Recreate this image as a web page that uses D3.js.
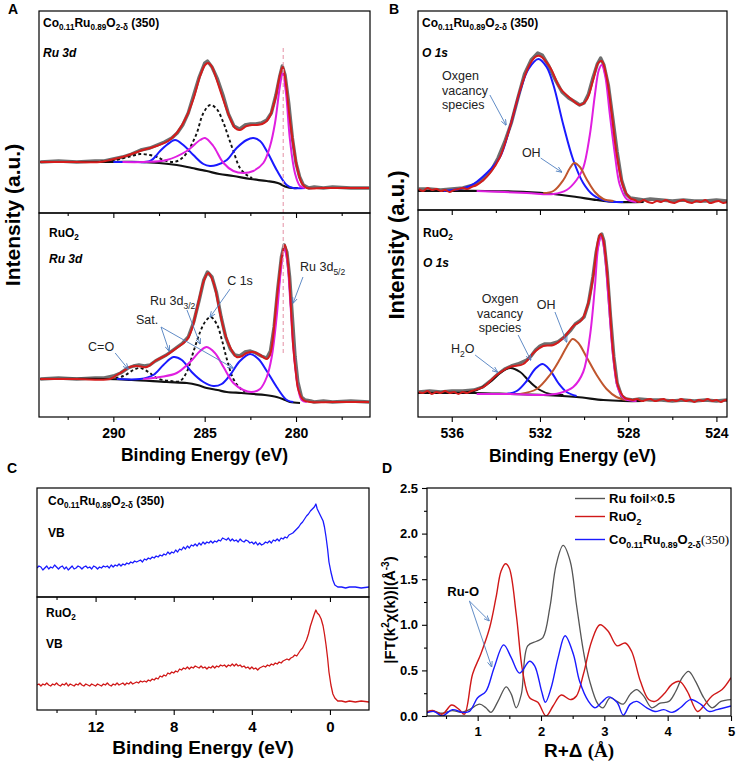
<!DOCTYPE html>
<html><head><meta charset="utf-8">
<script src="https://cdn.jsdelivr.net/npm/d3@7"></script>
<style>body{margin:0;background:#fff} text{font-family:Arial,"Liberation Sans",sans-serif}</style>
</head><body><script>
// ---------------- DATA ----------------
// Panel A (Ru 3d) – binding energy (eV), intensity (a.u.)
const A1_raw = [[294,51],[293,52],[292,51],[291,52],[290.5,52],[290,54],[289.5,56],[289,59],[288.5,63],[288,65],[287.6,68],[287.2,71],[286.8,75],[286.5,80],[286.2,88],[285.9,100],[285.6,118],[285.3,136],[285.0,150],[284.85,152],[284.6,146],[284.3,134],[284.0,118],[283.7,99],[283.4,87],[283.1,84],[282.8,88],[282.5,89],[282.2,89],[281.9,90],[281.6,93],[281.35,100],[281.1,118],[280.9,136],[280.75,147],[280.6,138],[280.4,110],[280.2,75],[280.0,50],[279.8,36],[279.6,28],[279.3,25],[279,26],[278.5,25],[278,26],[277,25],[276,25]];
const A1_fit = [[294,51],[292,51],[290.73,51],[290.18,53],[289.3,57],[288.54,62],[287.63,67],[287.0,72],[286.53,80],[285.98,97],[285.6,115],[285.25,137],[284.98,148],[284.8,150],[284.6,146],[284.34,133],[284.05,117],[283.79,103],[283.55,92],[283.34,85],[283.07,83],[282.70,87],[282.4,88],[282.15,88],[281.85,89],[281.6,92],[281.4,98],[281.24,107],[281.1,117],[280.97,130],[280.85,140],[280.73,146],[280.62,138],[280.51,123],[280.38,100],[280.24,80],[280.1,62],[279.96,47],[279.83,37],[279.69,30],[279.55,27],[279.41,25],[278.5,25],[277,25],[276,25]];
const A1_base = [[294,51],[290,51],[288.54,51],[287.5,50],[286.53,48],[285.7,45],[284.89,42],[284.2,39],[283.43,37],[282.5,34],[281.6,32],[281,30],[280.51,26],[280.2,25],[279.9,25]];
const A1_c1s = [[291,51],[290.2,52],[289.63,54],[289.0,57],[288.54,59],[288.0,58],[287.6,56],[287.26,53],[286.71,51],[286.3,54],[285.98,60],[285.7,69],[285.43,80],[285.07,100],[284.7,108],[284.34,104],[283.97,90],[283.7,76],[283.43,62],[283.07,45],[282.70,38],[282.4,35]];
const A1_sat = [[290,51],[289.5,51],[288.91,51],[287.99,52],[287.44,62],[287.08,68],[286.62,73],[286.17,68],[285.62,58],[285.07,49],[284.71,47],[284.34,48],[283.79,53],[283.25,65],[282.70,73],[282.34,75],[281.97,72],[281.6,62],[281.06,43],[280.51,28],[280.15,25],[279.5,25]];
const A1_ru = [[289.5,51],[288.36,51],[287.08,53],[285.98,62],[285.25,73],[284.98,75],[284.53,67],[283.97,50],[283.43,42],[282.88,40],[282.34,42],[281.79,50],[281.42,67],[281.15,90],[280.88,127],[280.73,140],[280.55,120],[280.33,73],[280.06,40],[279.78,27],[279.51,25]];

const A2_raw = [[294,38],[293,39],[292,38],[291,39],[290.5,39],[290,41],[289.6,44],[289.2,49],[288.9,51],[288.6,52],[288.3,51],[288,52],[287.7,56],[287.4,59],[287.1,62],[286.8,66],[286.5,70],[286.2,74],[285.9,80],[285.6,95],[285.3,117],[285.05,137],[284.85,145],[284.6,140],[284.35,124],[284.1,100],[283.85,80],[283.6,68],[283.35,62],[283.1,61],[282.8,65],[282.5,66],[282.2,64],[281.9,61],[281.6,59],[281.4,66],[281.2,90],[281.0,128],[280.8,160],[280.65,172],[280.5,165],[280.35,140],[280.2,100],[280.05,60],[279.9,35],[279.7,20],[279.5,17],[279.2,16],[279,15],[278.5,16],[278,15],[277,16],[276,15]];
const A2_fit = [[294,38],[292,38],[290.18,38],[289.81,42],[289.45,46],[289.09,50],[288.72,51],[288.17,50],[287.63,57],[287.08,62],[286.53,69],[285.98,77],[285.7,88],[285.44,107],[285.25,122],[285.07,135],[284.8,144],[284.53,135],[284.35,122],[284.16,104],[283.9,84],[283.61,70],[283.25,60],[282.95,61],[282.70,64],[282.34,65],[281.97,62],[281.6,58],[281.45,61],[281.33,70],[281.2,90],[281.06,117],[280.92,140],[280.78,160],[280.6,172],[280.42,150],[280.28,110],[280.15,70],[280.0,43],[279.87,27],[279.6,17],[279.23,15],[278,15],[276,15]];
const A2_base = [[294,38],[290.5,38],[289,37],[287.08,35],[285.98,34],[285.4,32],[284.89,29],[284.3,27],[283.79,25],[283,24],[282.34,23],[281.7,22],[281.06,20],[280.6,17],[280.33,15],[279.78,14]];
const A2_c1s = [[290.18,38],[289.45,41],[288.9,47],[288.54,49],[288.08,45],[287.63,39],[286.9,36],[286.35,36],[285.98,45],[285.62,65],[285.25,85],[284.98,95],[284.67,100],[284.34,93],[284.07,78],[283.79,58],[283.43,38],[283.07,29],[282.8,25]];
const A2_sat = [[289.81,38],[288.54,38],[287.81,42],[287.26,52],[286.71,60],[286.25,57],[285.71,45],[285.07,35],[284.53,31],[284.07,33],[283.61,42],[283.07,56],[282.52,63],[282.06,58],[281.6,46],[281.06,30],[280.51,17],[280.15,15]];
const A2_ru = [[288.36,38],[287.44,40],[286.53,44],[285.8,55],[285.25,66],[284.89,70],[284.44,64],[283.97,50],[283.43,34],[282.88,27],[282.43,25],[281.97,28],[281.6,40],[281.33,60],[281.06,100],[280.84,145],[280.66,168],[280.51,160],[280.33,120],[280.15,70],[279.9,30],[279.69,17],[279.41,15]];
const A_ticksMajor = [290,285,280];
const A_ticksMinor = [292.5,287.5,282.5,277.5];
const A_refLine = 280.7;

// Panel B (O 1s)
const B1_raw = [[537.5,21],[537,21],[536.5,20],[536,21],[535.5,22],[535,25],[534.6,30],[534.2,40],[533.9,52],[533.6,68],[533.3,87],[533.0,112],[532.7,136],[532.4,150],[532.1,157],[531.9,155],[531.6,144],[531.3,130],[531.0,118],[530.7,112],[530.4,108],[530.2,105],[530.0,107],[529.8,116],[529.6,132],[529.4,146],[529.25,152],[529.1,145],[528.9,125],[528.7,92],[528.5,58],[528.3,30],[528.1,16],[527.9,12],[527.6,11],[527.3,10],[527,11],[526.5,10],[526,9],[525.5,10],[525,9],[524.5,9],[524,10],[523.5,9]];
const B1_fit = [[537.5,21],[537.3,19],[537.1,22],[536.9,20],[536.7,21],[536.5,19],[536.3,20],[536.1,18],[535.9,20],[535.7,21],[535.5,22],[535.3,21],[535.1,23],[534.87,25],[534.56,30],[534.26,37],[533.81,53],[533.36,83],[532.9,120],[532.52,143],[532.22,153],[532.0,154],[531.55,143],[531.09,122],[530.64,112],[530.19,105],[529.89,110],[529.59,130],[529.36,147],[529.2,149],[528.98,133],[528.75,97],[528.53,57],[528.22,23],[527.92,12],[527.7,10],[527.5,8],[527.3,10],[527.1,8],[526.9,7],[526.7,9],[526.5,8],[526.3,10],[526.1,8],[525.9,7],[525.7,9],[525.5,10],[525.3,8],[525.1,7],[524.9,9],[524.7,8],[524.5,10],[524.3,7],[524.1,8],[523.9,9],[523.7,7],[523.5,8]];
const B1_base = [[537.53,19],[536,19],[534.5,19],[532.6,18],[531.39,16],[530.34,13],[529.43,10],[528.53,8],[527.3,8]];
const B1_vac = [[536.37,19],[535.17,24],[534.41,37],[533.81,53],[533.36,83],[532.9,119],[532.52,141],[532.07,151],[531.7,143],[531.39,125],[530.94,85],[530.49,50],[530.04,27],[529.59,15],[528.98,9],[528.22,8]];
const B1_oh = [[531.85,17],[531.39,19],[530.94,30],[530.64,42],[530.44,47],[530.19,43],[529.89,31],[529.51,18],[529.13,11],[528.67,9]];
const B1_lat = [[534.87,19],[532.6,17],[531.39,16],[530.79,20],[530.34,30],[530.04,42],[529.74,75],[529.51,115],[529.33,140],[529.2,145],[529.05,135],[528.83,95],[528.6,55],[528.38,25],[528.07,11],[527.62,8]];

const B2_raw = [[537.5,25],[537,26],[536.5,25],[536,26],[535.5,26],[535,27],[534.6,30],[534.2,37],[533.9,43],[533.6,48],[533.3,51],[533,53],[532.8,55],[532.6,57],[532.4,61],[532.2,67],[532,71],[531.8,73],[531.5,73],[531.2,75],[530.9,80],[530.6,87],[530.4,93],[530.2,96],[530,100],[529.8,114],[529.6,140],[529.45,165],[529.3,181],[529.2,183],[529.1,176],[528.95,145],[528.8,100],[528.65,60],[528.5,34],[528.3,21],[528.1,18],[527.8,17],[527.5,18],[527,17],[526.5,17],[526,16],[525.5,17],[525,16],[524.5,17],[524,16],[523.5,17]];
const B2_fit = [[537.5,25],[537.3,24],[537.1,26],[536.9,23],[536.7,25],[536.5,24],[536.3,26],[536.1,24],[535.9,25],[535.7,23],[535.5,25],[535.3,24],[535.1,26],[534.56,30],[533.96,42],[533.36,50],[532.75,53],[532.3,64],[531.85,71],[531.39,72],[530.94,79],[530.49,91],[530.11,97],[529.81,114],[529.59,140],[529.36,177],[529.25,183],[529.13,177],[528.9,130],[528.68,64],[528.45,30],[528.15,19],[528,18],[527.8,17],[527.6,18],[527.4,16],[527.2,17],[527,18],[526.8,16],[526.6,17],[526.4,18],[526.2,16],[526,17],[525.8,16],[525.6,18],[525.4,16],[525.2,17],[525,15],[524.8,17],[524.6,16],[524.4,18],[524.2,16],[524,17],[523.8,15],[523.6,17],[523.5,16]];
const B2_base = [[537.53,24],[535,24],[533.36,23],[531.85,22],[530.34,20],[529.13,17],[528.22,16],[527.3,16]];
const B2_h2o = [[535.62,24],[534.87,27],[534.26,35],[533.81,44],[533.36,49],[532.9,45],[532.45,35],[532.0,27],[531.55,23],[530.94,22]];
const B2_vac = [[533.51,23],[533.05,26],[532.6,36],[532.22,48],[531.88,53],[531.55,47],[531.17,34],[530.79,25],[530.34,21]];
const B2_oh = [[532.9,23],[532.15,28],[531.55,42],[531.09,58],[530.79,70],[530.52,78],[530.26,74],[529.89,60],[529.43,42],[528.98,28],[528.53,20],[528.07,17]];
const B2_lat = [[534.87,23],[533.36,23],[531.85,22],[531.09,24],[530.49,30],[530.04,45],[529.74,80],[529.51,130],[529.36,170],[529.23,180],[529.1,170],[528.9,120],[528.68,60],[528.45,28],[528.15,18],[527.62,16]];
const B_ticksMajor = [536,532,528,524];
const B_ticksMinor = [534,530,526];

// Panel C (valence band)
const C1_vb = [[15.0,29],[14.9,31],[14.8,30],[14.7,27],[14.6,29],[14.5,31],[14.4,28],[14.3,30],[14.2,29],[14.1,32],[14.0,30],[13.9,28],[13.8,30],[13.7,31],[13.6,28],[13.5,30],[13.4,27],[13.3,29],[13.2,31],[13.1,28],[13.0,29],[12.9,31],[12.8,30],[12.7,28],[12.6,30],[12.5,31],[12.4,29],[12.3,30],[12.2,28],[12.1,31],[12.0,30],[11.9,28],[11.8,30],[11.7,29],[11.6,31],[11.5,30],[11.4,31],[11.3,29],[11.2,32],[11.1,30],[11.0,32],[10.9,31],[10.8,33],[10.7,31],[10.6,33],[10.5,32],[10.4,34],[10.3,33],[10.2,35],[10.1,34],[10.0,36],[9.9,35],[9.8,36],[9.7,37],[9.6,35],[9.5,38],[9.4,37],[9.3,39],[9.2,38],[9.1,40],[9.0,39],[8.9,41],[8.8,40],[8.7,42],[8.6,41],[8.5,43],[8.4,42],[8.3,45],[8.2,43],[8.1,45],[8.0,44],[7.9,47],[7.8,45],[7.7,48],[7.6,47],[7.5,50],[7.4,48],[7.3,51],[7.2,49],[7.1,52],[7.0,51],[6.9,53],[6.8,51],[6.7,54],[6.6,52],[6.5,55],[6.4,53],[6.3,55],[6.2,54],[6.1,56],[6.0,54],[5.9,56],[5.8,55],[5.7,57],[5.6,56],[5.5,59],[5.4,58],[5.3,57],[5.2,59],[5.1,56],[5.0,58],[4.9,56],[4.8,57],[4.7,55],[4.6,58],[4.5,56],[4.4,55],[4.3,57],[4.2,56],[4.1,54],[4.0,55],[3.9,53],[3.8,55],[3.7,52],[3.6,54],[3.5,52],[3.4,53],[3.3,55],[3.2,54],[3.1,56],[3.0,54],[2.9,57],[2.8,56],[2.7,58],[2.6,56],[2.5,59],[2.4,58],[2.3,60],[2.2,59],[2.1,62],[2.0,63],[1.9,64],[1.8,66],[1.7,68],[1.6,70],[1.5,73],[1.4,75],[1.3,78],[1.2,81],[1.1,83],[1.0,86],[0.9,88],[0.8,90],[0.72,93],[0.65,88],[0.55,84],[0.45,80],[0.35,76],[0.28,70],[0.2,60],[0.12,48],[0.05,35],[-0.05,25],[-0.15,17],[-0.25,12],[-0.4,10],[-0.6,10],[-0.8,9],[-1.0,10],[-1.3,10],[-1.6,9],[-2.0,10]];
const C2_vb = [[15.0,25],[14.9,26],[14.8,24],[14.7,26],[14.6,25],[14.5,27],[14.4,25],[14.3,24],[14.2,26],[14.1,25],[14.0,27],[13.9,25],[13.8,24],[13.7,26],[13.6,25],[13.5,27],[13.4,24],[13.3,26],[13.2,25],[13.1,24],[13.0,26],[12.9,25],[12.8,27],[12.7,25],[12.6,24],[12.5,26],[12.4,25],[12.3,24],[12.2,26],[12.1,25],[12.0,24],[11.9,26],[11.8,25],[11.7,24],[11.6,26],[11.5,25],[11.4,27],[11.3,25],[11.2,24],[11.1,26],[11.0,25],[10.9,27],[10.8,25],[10.7,26],[10.6,27],[10.5,25],[10.4,27],[10.3,26],[10.2,28],[10.1,26],[10.0,27],[9.9,28],[9.8,27],[9.7,29],[9.6,28],[9.5,29],[9.4,28],[9.3,30],[9.2,29],[9.1,31],[9.0,30],[8.9,32],[8.8,31],[8.7,34],[8.6,33],[8.5,35],[8.4,34],[8.3,37],[8.2,36],[8.1,38],[8.0,37],[7.9,39],[7.8,38],[7.7,41],[7.6,40],[7.5,42],[7.4,41],[7.3,43],[7.2,41],[7.1,43],[7.0,42],[6.9,44],[6.8,43],[6.7,42],[6.6,44],[6.5,42],[6.4,43],[6.3,41],[6.2,43],[6.1,42],[6.0,44],[5.9,42],[5.8,44],[5.7,43],[5.6,45],[5.5,44],[5.4,45],[5.3,43],[5.2,45],[5.1,44],[5.0,46],[4.9,44],[4.8,46],[4.7,44],[4.6,45],[4.5,43],[4.4,44],[4.3,42],[4.2,43],[4.1,41],[4.0,43],[3.9,41],[3.8,42],[3.7,40],[3.6,42],[3.5,43],[3.4,44],[3.3,43],[3.2,45],[3.1,44],[3.0,46],[2.9,45],[2.8,47],[2.7,46],[2.6,48],[2.5,47],[2.4,49],[2.3,50],[2.2,51],[2.1,50],[2.0,52],[1.9,53],[1.8,55],[1.7,54],[1.6,57],[1.5,60],[1.4,62],[1.3,66],[1.2,70],[1.1,76],[1.0,84],[0.9,90],[0.8,96],[0.72,100],[0.65,97],[0.55,95],[0.45,91],[0.35,84],[0.28,76],[0.2,65],[0.12,52],[0.05,38],[-0.05,25],[-0.15,16],[-0.25,12],[-0.4,9],[-0.6,9],[-0.8,8],[-1.0,9],[-1.3,8],[-1.6,9],[-2.0,8]];
const C_ticksMajor = [12,8,4,0];
const C_ticksMinor = [14,10,6,2];

// Panel D (EXAFS FT)
const D_foil = [[0.18,0.04],[0.31,0.05],[0.44,0.03],[0.6,0.06],[0.74,0.04],[0.87,0.07],[1.03,0.13],[1.13,0.09],[1.21,0.04],[1.32,0.16],[1.45,0.32],[1.53,0.24],[1.61,0.09],[1.69,0.24],[1.79,0.77],[1.93,0.82],[2.03,0.86],[2.14,1.19],[2.24,1.66],[2.35,1.87],[2.46,1.7],[2.56,1.22],[2.67,0.71],[2.77,0.38],[2.9,0.13],[2.98,0.09],[3.09,0.2],[3.2,0.16],[3.3,0.13],[3.41,0.24],[3.51,0.29],[3.62,0.22],[3.75,0.09],[3.88,0.14],[4.02,0.16],[4.12,0.26],[4.23,0.42],[4.33,0.49],[4.44,0.38],[4.57,0.2],[4.7,0.09],[4.84,0.16],[5.0,0.18]];
const D_ruo2 = [[0.18,0.04],[0.29,0.06],[0.44,0.02],[0.59,0.12],[0.71,0.07],[0.79,0.02],[0.92,0.46],[1.05,0.68],[1.19,0.97],[1.29,1.3],[1.37,1.59],[1.44,1.67],[1.5,1.62],[1.61,1.11],[1.71,0.49],[1.82,0.2],[1.95,0.15],[2.08,0.0],[2.19,0.11],[2.32,0.23],[2.46,0.18],[2.56,0.22],[2.67,0.46],[2.8,0.82],[2.93,1.0],[3.06,0.93],[3.2,0.77],[3.33,0.8],[3.43,0.71],[3.57,0.38],[3.7,0.18],[3.8,0.16],[3.94,0.24],[4.07,0.35],[4.19,0.38],[4.31,0.27],[4.47,0.05],[4.57,0.11],[4.7,0.22],[4.86,0.29],[5.0,0.42]];
const D_co = [[0.18,0.03],[0.31,0.05],[0.44,0.0],[0.6,0.07],[0.76,0.04],[0.87,0.05],[1.0,0.2],[1.13,0.27],[1.26,0.53],[1.41,0.78],[1.53,0.64],[1.66,0.47],[1.82,0.6],[1.9,0.55],[2.01,0.27],[2.07,0.15],[2.16,0.31],[2.27,0.64],[2.38,0.88],[2.51,0.68],[2.61,0.38],[2.75,0.16],[2.85,0.09],[2.96,0.15],[3.06,0.21],[3.2,0.15],[3.3,0.01],[3.41,0.13],[3.51,0.16],[3.67,0.09],[3.8,0.05],[3.94,0.07],[4.07,0.04],[4.2,0.09],[4.36,0.18],[4.52,0.13],[4.65,0.05],[4.78,0.07],[5.0,0.11]];
const D_xMajor = [1,2,3,4,5];
const D_xMinor = [0.5,1.5,2.5,3.5,4.5];
const D_yMajor = [0,0.5,1.0,1.5,2.0,2.5];
const D_yMinor = [0.25,0.75,1.25,1.75,2.25];

// ---------------- STYLES ----------------
const COL = {red:'#d41c1c', blue:'#1a1aff', mag:'#e01ee0', brown:'#c0562e', gray:'#6e6e6e', black:'#111', pink:'#e9a3b4', arrow:'#4f7fc0'};

// ---------------- DRAW ----------------
const svg = d3.select('body').append('svg').attr('width',736).attr('height',767);
const defs = svg.append('defs');
defs.append('marker').attr('id','arr').attr('viewBox','0 0 10 10').attr('refX',9).attr('refY',5)
  .attr('markerWidth',6).attr('markerHeight',6).attr('markerUnits','userSpaceOnUse').attr('orient','auto')
  .append('path').attr('d','M0,1L10,5L0,9').attr('fill','none').attr('stroke',COL.arrow).attr('stroke-width',1.4);

let clipN = 0;
function sub(x, y) {
  const id = 'c' + (clipN++);
  const [x0,x1] = x.range(), [y0,y1] = y.range();
  defs.append('clipPath').attr('id',id).append('rect').attr('x',x0).attr('y',y1).attr('width',x1-x0).attr('height',y0-y1);
  return svg.append('g').attr('clip-path',`url(#${id})`);
}
function frame(x, y) {
  const [x0,x1] = x.range(), [y0,y1] = y.range();
  svg.append('rect').attr('x',x0).attr('y',y1).attr('width',x1-x0).attr('height',y0-y1)
    .attr('fill','none').attr('stroke','#000').attr('stroke-width',1.2);
}
function line(g, data, x, y, color, w, opts={}) {
  const l = d3.line().x(d=>x(d[0])).y(d=>y(d[1])).curve(opts.curve || d3.curveCatmullRom.alpha(0.5));
  g.append('path').datum(data).attr('d',l).attr('fill','none').attr('stroke',color)
    .attr('stroke-width',w).attr('stroke-dasharray',opts.dash||null).attr('stroke-linejoin','round');
}
function xAxis(x, ypix, majors, minors, labels, fs) {
  const gM = svg.append('g').attr('transform',`translate(0,${ypix})`)
    .call(d3.axisBottom(x).tickValues(majors).tickSize(5).tickPadding(6).tickFormat(labels ? d3.format('') : ''));
  const gm = svg.append('g').attr('transform',`translate(0,${ypix})`)
    .call(d3.axisBottom(x).tickValues(minors).tickSize(3).tickFormat(''));
  [gM,gm].forEach(g=>{ g.select('.domain').remove(); g.selectAll('line').attr('stroke','#000').attr('stroke-width',1.1); });
  gM.selectAll('text').attr('font-size',fs||14).attr('font-weight','bold').attr('fill','#000')
    .attr('font-family','Arial,"Liberation Sans",sans-serif');
}
function rich(x, y, parts, size, opts={}) {
  const t = svg.append('text').attr('x',x).attr('y',y).attr('font-size',size)
    .attr('font-weight', opts.weight||'bold').attr('font-style', opts.style||'normal')
    .attr('text-anchor', opts.anchor||'start').attr('fill','#000');
  let shift = 0;
  parts.forEach(p=>{
    const [txt, kind, fam, fw] = p;
    const target = kind==='sub' ? size*0.28 : kind==='sup' ? -size*0.4 : 0;
    const ts = t.append('tspan').attr('dy', target-shift).text(txt);
    if (kind) ts.attr('font-size', size*0.68);
    if (fam) ts.attr('font-family', fam);
    if (fw) ts.attr('font-weight', fw);
    shift = target;
  });
  return t;
}
function arrow(x, y, p0, p1) {
  svg.append('line').attr('x1',x(p0[0])).attr('y1',y(p0[1])).attr('x2',x(p1[0])).attr('y2',y(p1[1]))
    .attr('stroke',COL.arrow).attr('stroke-width',0.9).attr('marker-end','url(#arr)');
}
function note(x, y, p, lines, opts={}) {
  lines.forEach((s,i)=>{
    const t = rich(x(p[0]), y(p[1]) + i*14.5, typeof s === 'string' ? [[s]] : s, 12.5, {weight:'normal', anchor:opts.anchor||'start'});
    t.attr('fill','#222');
  });
}
const coLabel = [['Co'],['0.11','sub'],['Ru'],['0.89','sub'],['O'],['2-δ','sub'],[' (350)']];

// ===== Panel A =====
const xA = d3.scaleLinear().domain([294.07,275.95]).range([39,370]);
const yA1 = d3.scaleLinear().domain([0,202]).range([213,11]);
const yA2 = d3.scaleLinear().domain([0,204]).range([417,213]);
[[yA1, A1_raw, A1_fit, A1_base, A1_c1s, A1_sat, A1_ru],[yA2, A2_raw, A2_fit, A2_base, A2_c1s, A2_sat, A2_ru]].forEach(([y,raw,fit,base,c1s,sat,ru])=>{
  const g = sub(xA, y);
  line(g, raw, xA, y, COL.gray, 3.4, {curve:d3.curveLinear});
  line(g, base, xA, y, COL.black, 2.2);
  line(g, c1s, xA, y, COL.black, 1.9, {dash:'3,2.5'});
  line(g, sat, xA, y, COL.blue, 2);
  line(g, ru, xA, y, COL.mag, 2);
  line(g, fit, xA, y, COL.red, 2);
});
svg.append('line').attr('x1',xA(A_refLine)).attr('x2',xA(A_refLine)).attr('y1',yA1(165)).attr('y2',yA2(62))
  .attr('stroke',COL.pink).attr('stroke-width',1.2).attr('stroke-dasharray','4,3');
frame(xA,yA1); frame(xA,yA2);
xAxis(xA, 213, A_ticksMajor, A_ticksMinor, false);
xAxis(xA, 417, A_ticksMajor, A_ticksMinor, true);
rich(43, 27, coLabel, 12);
rich(43, 57, [['Ru 3d']], 12, {style:'italic'});
rich(49, 237, [['RuO'],['2','sub']], 12);
rich(49, 263, [['Ru 3d']], 12, {style:'italic'});
note(xA, yA2, [290.67,66], ['C=O'], {anchor:'middle'});
arrow(xA, yA2, [289.9,64], [289.19,48]);
note(xA, yA2, [288.15,93], ['Sat.'], {anchor:'middle'});
arrow(xA, yA2, [287.39,90], [286.95,66]);
arrow(xA, yA2, [287.39,90], [283.45,49]);
note(xA, yA2, [287.99,112], [[['Ru 3d'],['3/2','sub']]]);
arrow(xA, yA2, [285.97,107], [285.25,73]);
note(xA, yA2, [283.77,132], ['C 1s']);
arrow(xA, yA2, [283.61,128], [284.7,100]);
note(xA, yA2, [279.78,146], [[['Ru 3d'],['5/2','sub']]]);
arrow(xA, yA2, [279.62,140], [280.16,114]);
svg.append('text').attr('x',204.5).attr('y',461).attr('text-anchor','middle').attr('font-size',17.5).attr('font-weight','bold').text('Binding Energy (eV)');
svg.append('text').attr('transform','translate(20,215) rotate(-90)').attr('text-anchor','middle').attr('font-size',21).attr('font-weight','bold').text('Intensity (a.u.)');
svg.append('text').attr('x',8).attr('y',14).attr('font-size',14).attr('font-weight','bold').text('A');

// ===== Panel B =====
const xB = d3.scaleLinear().domain([537.53,523.52]).range([418,727]);
const yB1 = d3.scaleLinear().domain([0,199]).range([210,11]);
const yB2 = d3.scaleLinear().domain([0,207]).range([417,210]);
{
  const g = sub(xB, yB1);
  line(g, B1_raw, xB, yB1, COL.gray, 3.4, {curve:d3.curveLinear});
  line(g, B1_base, xB, yB1, COL.black, 2.2);
  line(g, B1_vac, xB, yB1, COL.blue, 2);
  line(g, B1_lat, xB, yB1, COL.mag, 2);
  line(g, B1_oh, xB, yB1, COL.brown, 2);
  line(g, B1_fit, xB, yB1, COL.red, 2);
}
{
  const g = sub(xB, yB2);
  line(g, B2_raw, xB, yB2, COL.gray, 3.4, {curve:d3.curveLinear});
  line(g, B2_base, xB, yB2, COL.black, 2.2);
  line(g, B2_h2o, xB, yB2, COL.black, 2);
  line(g, B2_vac, xB, yB2, COL.blue, 2);
  line(g, B2_oh, xB, yB2, COL.brown, 2);
  line(g, B2_lat, xB, yB2, COL.mag, 2);
  line(g, B2_fit, xB, yB2, COL.red, 2);
}
frame(xB,yB1); frame(xB,yB2);
xAxis(xB, 210, B_ticksMajor, B_ticksMinor, false);
xAxis(xB, 417, B_ticksMajor, B_ticksMinor, true);
rich(422, 27, coLabel, 12);
rich(422, 57, [['O 1s']], 12, {style:'italic'});
rich(423, 237, [['RuO'],['2','sub']], 12);
rich(423, 267, [['O 1s']], 12, {style:'italic'});
note(xB, yB1, [536.44,130], ['Oxgen','vacancy','species']);
arrow(xB, yB1, [534.27,115], [533.54,85]);
note(xB, yB1, [532.82,53], ['OH']);
arrow(xB, yB1, [531.97,52], [531.02,38]);
note(xB, yB2, [535.5,64], [[['H'],['2','sub'],['O']]], {anchor:'middle'});
arrow(xB, yB2, [534.94,62], [533.93,45]);
note(xB, yB2, [533.81,114], ['Oxgen','vacancy','species'], {anchor:'middle'});
arrow(xB, yB2, [532.99,82], [532.42,57]);
note(xB, yB2, [532.15,108], ['OH']);
arrow(xB, yB2, [531.32,105], [530.79,75]);
svg.append('text').attr('x',572.5).attr('y',462).attr('text-anchor','middle').attr('font-size',17.5).attr('font-weight','bold').text('Binding Energy (eV)');
svg.append('text').attr('transform','translate(404,245) rotate(-90)').attr('text-anchor','middle').attr('font-size',22).attr('font-weight','bold').text('Intensity (a.u.)');
svg.append('text').attr('x',389).attr('y',14).attr('font-size',14).attr('font-weight','bold').text('B');

// ===== Panel C =====
const xC = d3.scaleLinear().domain([15,-2]).range([37,369]);
const yC1 = d3.scaleLinear().domain([0,109]).range([597,488]);
const yC2 = d3.scaleLinear().domain([0,113]).range([710,597]);
line(sub(xC,yC1), C1_vb, xC, yC1, COL.blue, 1.3, {curve:d3.curveLinear});
line(sub(xC,yC2), C2_vb, xC, yC2, '#d01818', 1.3, {curve:d3.curveLinear});
frame(xC,yC1); frame(xC,yC2);
xAxis(xC, 597, C_ticksMajor, C_ticksMinor, false);
xAxis(xC, 710, C_ticksMajor, C_ticksMinor, true, 15);
rich(48, 505, coLabel, 12);
rich(48, 537, [['VB']], 12);
rich(46, 617, [['RuO'],['2','sub']], 12);
rich(46, 648, [['VB']], 12);
svg.append('text').attr('x',203).attr('y',754).attr('text-anchor','middle').attr('font-size',19).attr('font-weight','bold').text('Binding Energy (eV)');
svg.append('text').attr('x',7).attr('y',473).attr('font-size',14).attr('font-weight','bold').text('C');

// ===== Panel D =====
const xD = d3.scaleLinear().domain([0.2,5]).range([427,731]);
const yD = d3.scaleLinear().domain([0,2.5]).range([716,488]);
{
  const g = sub(xD, yD);
  line(g, D_foil, xD, yD, '#555', 1.3);
  line(g, D_ruo2, xD, yD, '#d01818', 1.4);
  line(g, D_co, xD, yD, COL.blue, 1.4);
}
frame(xD, yD);
xAxis(xD, 716, D_xMajor, D_xMinor, true, 13);
{
  const gM = svg.append('g').attr('transform','translate(427,0)')
    .call(d3.axisLeft(yD).tickValues(D_yMajor).tickSize(5).tickPadding(4).tickFormat(d3.format('.1f')));
  const gm = svg.append('g').attr('transform','translate(427,0)')
    .call(d3.axisLeft(yD).tickValues(D_yMinor).tickSize(3).tickFormat(''));
  [gM,gm].forEach(g=>{ g.select('.domain').remove(); g.selectAll('line').attr('stroke','#000').attr('stroke-width',1.1); });
  gM.selectAll('text').attr('font-size',13).attr('font-weight','bold').attr('fill','#000').attr('font-family','Arial,"Liberation Sans",sans-serif');
}
const legItems = [
  {c:'#555', y:503, parts:[['Ru foil'],['×',null,null,'normal'],['0.5']]},
  {c:'#d01818', y:521, parts:[['RuO'],['2','sub']]},
  {c:COL.blue, y:544, parts:[['Co'],['0.11','sub'],['Ru'],['0.89','sub'],['O'],['2-δ','sub'],['(350)',null,'"Liberation Serif","Times New Roman",serif','normal']]}
];
legItems.forEach(it=>{
  svg.append('line').attr('x1',575).attr('x2',605).attr('y1',it.y-4.5).attr('y2',it.y-4.5).attr('stroke',it.c).attr('stroke-width',1.4);
  rich(609, it.y, it.parts, 13);
});
rich(xD(0.52), yD(1.32), [['Ru-O']], 13);
arrow(xD, yD, [0.87,1.26], [1.18,1.045]);
arrow(xD, yD, [0.87,1.26], [1.22,0.54]);
svg.append('text').attr('transform','translate(395,610) rotate(-90)').attr('text-anchor','middle').attr('font-size',15).attr('font-weight','bold')
  .call(t=>{
    t.append('tspan').text('|FT(k');
    t.append('tspan').attr('dy',-6).attr('font-size',10).text('2');
    t.append('tspan').attr('dy',6).text('χ(k))|(Å');
    t.append('tspan').attr('dy',-6).attr('font-size',10).text('-3');
    t.append('tspan').attr('dy',6).text(')');
  });
svg.append('text').attr('x',579).attr('y',757).attr('text-anchor','middle').attr('font-size',19).attr('font-weight','bold')
  .call(t=>{ t.append('tspan').text('R+Δ '); t.append('tspan').attr('font-family','"Liberation Serif","Times New Roman",serif').text('(Å)'); });
svg.append('text').attr('x',382).attr('y',473).attr('font-size',14).attr('font-weight','bold').text('D');
</script></body></html>
